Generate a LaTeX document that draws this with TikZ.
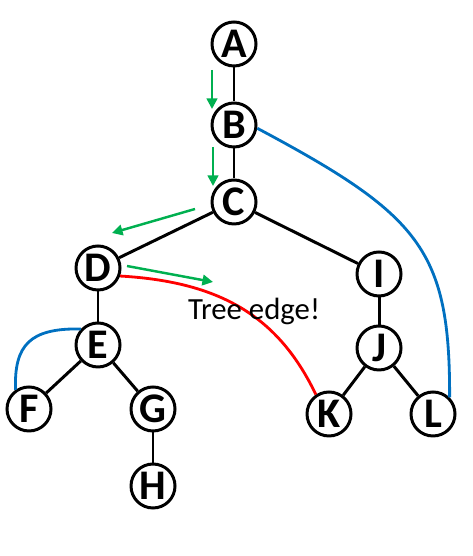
\documentclass[tikz,border=0pt]{standalone}
\usepackage{fontspec}
\setmainfont{Carlito}
\usepackage{xcolor}
\usepackage{tikz}
\usetikzlibrary{arrows.meta}
\definecolor{treegreen}{HTML}{00B050}
\definecolor{backblue}{HTML}{0070C0}
\definecolor{crossred}{HTML}{FF0000}

\begin{document}
\begin{tikzpicture}[
        vertex/.style={circle, draw, line width=1.7pt, minimum size=0.88cm, inner sep=0pt,
            font=\fontsize{24}{24}\selectfont\bfseries},
        treeline/.style={line width=1.7pt},
        walk/.style={treegreen, line width=1.4pt, -{Triangle[length=6pt, width=6pt]}},
        backline/.style={backblue, line width=1.6pt},
    ]
        \useasboundingbox (0,0) rectangle (9.44,11.12);

        % Vertices
        \node[vertex] (A) at (4.68,10.24) {A};
        \node[vertex] (B) at (4.68,8.62) {B};
        \node[vertex] (C) at (4.68,7.08) {C};
        \node[vertex] (D) at (1.96,5.76) {D};
        \node[vertex] (I) at (7.58,5.64) {I};
        \node[vertex] (E) at (1.96,4.22) {E};
        \node[vertex] (J) at (7.58,4.16) {J};
        \node[vertex] (F) at (0.58,2.94) {F};
        \node[vertex] (G) at (3.06,2.94) {G};
        \node[vertex] (H) at (3.06,1.40) {H};
        \node[vertex] (K) at (6.58,2.84) {K};
        \node[vertex] (L) at (8.66,2.84) {L};

        % Tree edges
        \draw[treeline] (A) -- (B);
        \draw[treeline] (B) -- (C);
        \draw[treeline] (C) -- (D);
        \draw[treeline] (C) -- (I);
        \draw[treeline] (D) -- (E);
        \draw[treeline] (E) -- (F);
        \draw[treeline] (E) -- (G);
        \draw[treeline] (G) -- (H);
        \draw[treeline] (I) -- (J);
        \draw[treeline] (J) -- (K);
        \draw[treeline] (J) -- (L);

        % Back edges
        \draw[backline] (B.-8) .. controls (8.40,6.82) and (9.00,6.12) .. (L.45);
        \draw[backline] (F.125) .. controls (0.28,4.22) and (0.60,4.56) .. (E.137);

        % Edge from D to K
        \draw[crossred, line width=1.6pt] (D.-20) .. controls (4.50,5.48) and (5.60,4.72) .. (K.124);

        % Search steps
        \coordinate (s1a) at (4.24,9.72);
        \coordinate (s1b) at (4.24,8.94);
        \coordinate (s2a) at (4.26,8.18);
        \coordinate (s2b) at (4.26,7.40);
        \coordinate (s3a) at (3.90,6.94);
        \coordinate (s3b) at (2.24,6.46);
        \coordinate (s4a) at (2.54,5.80);
        \coordinate (s4b) at (4.26,5.48);
        \draw[walk] (s1a) -- (s1b);
        \draw[walk] (s2a) -- (s2b);
        \draw[walk] (s3a) -- (s3b);
        \draw[walk] (s4a) -- (s4b);

        % Label
        \node[font=\fontsize{17.5}{20}\selectfont] (note) at (5.08,4.90) {Tree edge!};
    \end{tikzpicture}
\end{document}
